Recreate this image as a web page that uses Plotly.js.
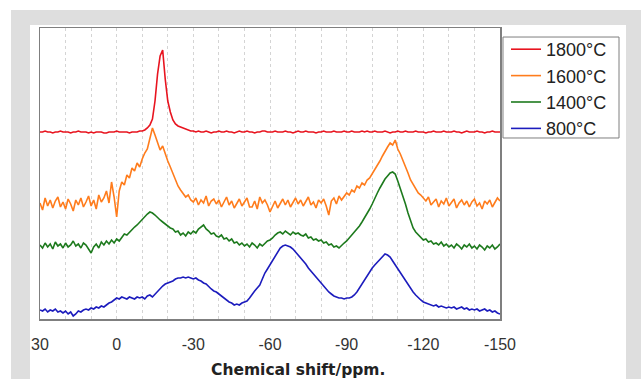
<!DOCTYPE html>
<html>
<head>
<meta charset="utf-8">
<script src="https://cdn.plot.ly/plotly-3.0.1.min.js"></script>
<style>
  html, body { margin:0; padding:0; background:#ffffff; width:641px; height:379px; overflow:hidden; }
  #frame { position:absolute; left:11px; top:10px; width:630px; height:369px; background:#dedede; }
  #chart { position:absolute; left:30px; top:25px; width:596px; height:354px; }
</style>
</head>
<body>
<div id="frame"></div>
<div id="chart"></div>
<script>
// Spectra sampled every 1 ppm, from 30 ppm down to -150 ppm (181 points each)
const shiftStart = 30;   // ppm of first sample
const shiftStep = -1;    // ppm step between samples

const seriesNames = ["1800°C", "1600°C", "1400°C", "800°C"];

const red1800 = [
  187,187,188,187,187,186,187,187,188,187,
  187,187,186,187,187,188,187,187,187,186,
  187,186,187,187,187,186,186,187,187,187,
  188,187,187,187,187,186,187,187,187,188,
  188,189,191,194,200,218,245,263,269,240,
  218,207,199,195,193,192,191,190,189,188,
  188,187,188,187,187,188,187,186,187,187,
  188,187,187,188,187,187,186,187,188,187,
  187,188,187,187,186,187,187,188,188,187,
  187,187,188,187,187,187,188,187,187,186,
  187,188,187,187,188,187,187,187,186,187,
  187,188,187,187,187,188,187,187,187,188,
  187,187,188,187,187,187,188,187,188,187,
  187,188,187,187,187,188,187,186,187,187,
  188,187,187,188,187,187,187,188,187,187,
  187,186,187,187,188,187,187,187,188,187,
  187,187,188,187,187,186,187,188,187,187,
  187,188,187,187,186,187,187,188,187,187,
  187
];

const orange1600 = [
  116,109,121,113,119,111,118,122,112,117,
  110,120,115,108,119,114,121,112,117,123,
  113,119,110,124,117,121,128,116,137,122,
  102,128,137,134,144,141,151,148,156,152,
  160,166,170,180,191,184,176,169,173,165,
  158,152,146,140,133,129,126,122,124,119,
  117,121,114,119,116,123,113,118,120,115,
  119,112,117,122,114,118,111,116,120,113,
  117,121,112,112,118,110,122,116,119,114,
  107,113,118,111,116,120,114,119,112,117,
  121,115,119,113,118,122,114,117,111,119,
  116,120,113,104,118,121,115,123,119,122,
  126,124,129,127,133,131,136,134,139,141,
  145,149,153,158,163,168,172,176,174,179,
  170,165,159,153,146,139,135,130,126,124,
  121,118,122,114,117,120,112,118,115,121,
  113,117,120,111,116,119,114,118,112,117,
  120,113,116,110,118,115,119,112,117,121,
  118
];

const green1400 = [
  74,71,76,72,75,70,77,73,75,71,
  76,72,74,78,73,75,71,76,74,70,
  66,72,75,71,77,74,78,75,79,76,
  80,78,82,85,84,87,89,92,94,97,
  99,103,105,107,106,104,101,99,97,95,
  93,91,90,87,88,84,86,83,87,85,
  88,86,90,92,94,90,88,85,86,83,
  82,84,80,81,78,80,76,77,74,76,
  73,75,72,76,74,71,75,73,76,78,
  79,81,84,86,87,85,88,86,84,87,
  85,86,84,83,85,81,82,79,80,78,
  79,76,77,74,75,72,73,71,74,76,
  78,81,83,86,89,93,97,101,106,110,
  115,121,126,131,136,140,143,146,147,145,
  138,131,124,115,106,98,91,87,84,81,
  79,80,77,78,75,76,74,77,73,75,
  72,74,71,75,73,70,74,72,75,71,
  73,70,74,72,69,73,71,74,70,72,
  75
];

const blue800 = [
  9,8,10,7,9,8,10,7,8,6,
  8,5,7,3,5,8,7,9,10,9,
  11,10,12,11,13,12,14,16,17,19,
  21,20,22,21,20,22,21,20,22,21,
  22,20,23,24,22,25,28,31,33,35,
  36,37,38,40,41,41,42,41,42,41,
  40,41,39,38,36,35,32,30,28,27,
  25,23,21,19,17,16,14,15,14,16,
  17,18,21,25,28,31,34,40,46,50,
  54,58,63,67,71,73,74,73,72,70,
  67,65,62,58,55,51,48,45,42,38,
  35,32,29,27,25,23,22,21,21,20,
  21,21,22,24,27,31,35,40,43,47,
  51,54,57,60,63,65,64,62,58,54,
  50,46,42,38,34,30,27,24,21,19,
  17,16,15,14,13,14,12,13,12,11,
  12,11,12,10,11,12,10,11,9,10,
  9,10,8,9,10,8,9,7,8,6,
  5
];

const tickVals = [30, 0, -30, -60, -90, -120, -150];
const tickText = ["30", "0", "-30", "-60", "-90", "-120", "-150"];
const xTitle = "Chemical shift/ppm.";

const colors = ["#e8141f", "#ff7c1c", "#1d7a1d", "#1c1cbd"];
const allSeries = [red1800, orange1600, green1400, blue800];

const traces = allSeries.map((vals, i) => ({
  type: "scatter",
  mode: "lines",
  name: seriesNames[i],
  x0: shiftStart,
  dx: shiftStep,
  y: vals,
  line: { color: colors[i], width: 1.6 },
  hoverinfo: "skip"
}));

const layout = {
  width: 596,
  height: 354,
  margin: { l: 10, r: 126, t: 3, b: 60 },
  paper_bgcolor: "#ffffff",
  plot_bgcolor: "#ffffff",
  showlegend: true,
  legend: {
    x: 1.013, y: 0.9897, xanchor: "left", yanchor: "top",
    borderwidth: 0, bgcolor: "rgba(0,0,0,0)",
    font: { family: "Liberation Sans, Arial, sans-serif", size: 18, color: "#222222" },
    tracegroupgap: 0, itemwidth: 30
  },
  shapes: [{
    type: "rect", xref: "paper", yref: "paper",
    x0: 1.0065, x1: 1.2587, y0: 0.622, y1: 0.969,
    line: { color: "#7f7f7f", width: 1 }, fillcolor: "rgba(0,0,0,0)", layer: "below"
  }],
  xaxis: {
    range: [30, -150],
    tickvals: tickVals,
    ticktext: tickText,
    ticks: "outside", ticklen: 10, tickcolor: "rgba(0,0,0,0)",
    tickfont: { family: "Liberation Sans, Arial, sans-serif", size: 16, color: "#333333" },
    showline: true, mirror: true, linecolor: "#7f7f7f", linewidth: 1.5,
    showgrid: true, gridcolor: "#d4d4d4", griddash: "dot", gridwidth: 1,
    minor: { dtick: 10, tick0: 0, showgrid: true, gridcolor: "#d4d4d4", griddash: "dot", gridwidth: 1 },
    zeroline: false, fixedrange: true
  },
  yaxis: {
    range: [0, 291],
    showticklabels: false, ticks: "",
    showline: true, mirror: true, linecolor: "#7f7f7f", linewidth: 1.5,
    showgrid: false, zeroline: false, fixedrange: true
  },
  annotations: [{
    text: "<b>" + xTitle + "</b>",
    xref: "paper", yref: "paper",
    x: 0.561, y: -0.175, xanchor: "center", yanchor: "middle",
    showarrow: false,
    font: { family: "DejaVu Sans, Verdana, sans-serif", size: 15.5, color: "#222222" }
  }],
  hovermode: false
};

Plotly.newPlot("chart", traces, layout, { staticPlot: true, displayModeBar: false });
</script>
</body>
</html>
